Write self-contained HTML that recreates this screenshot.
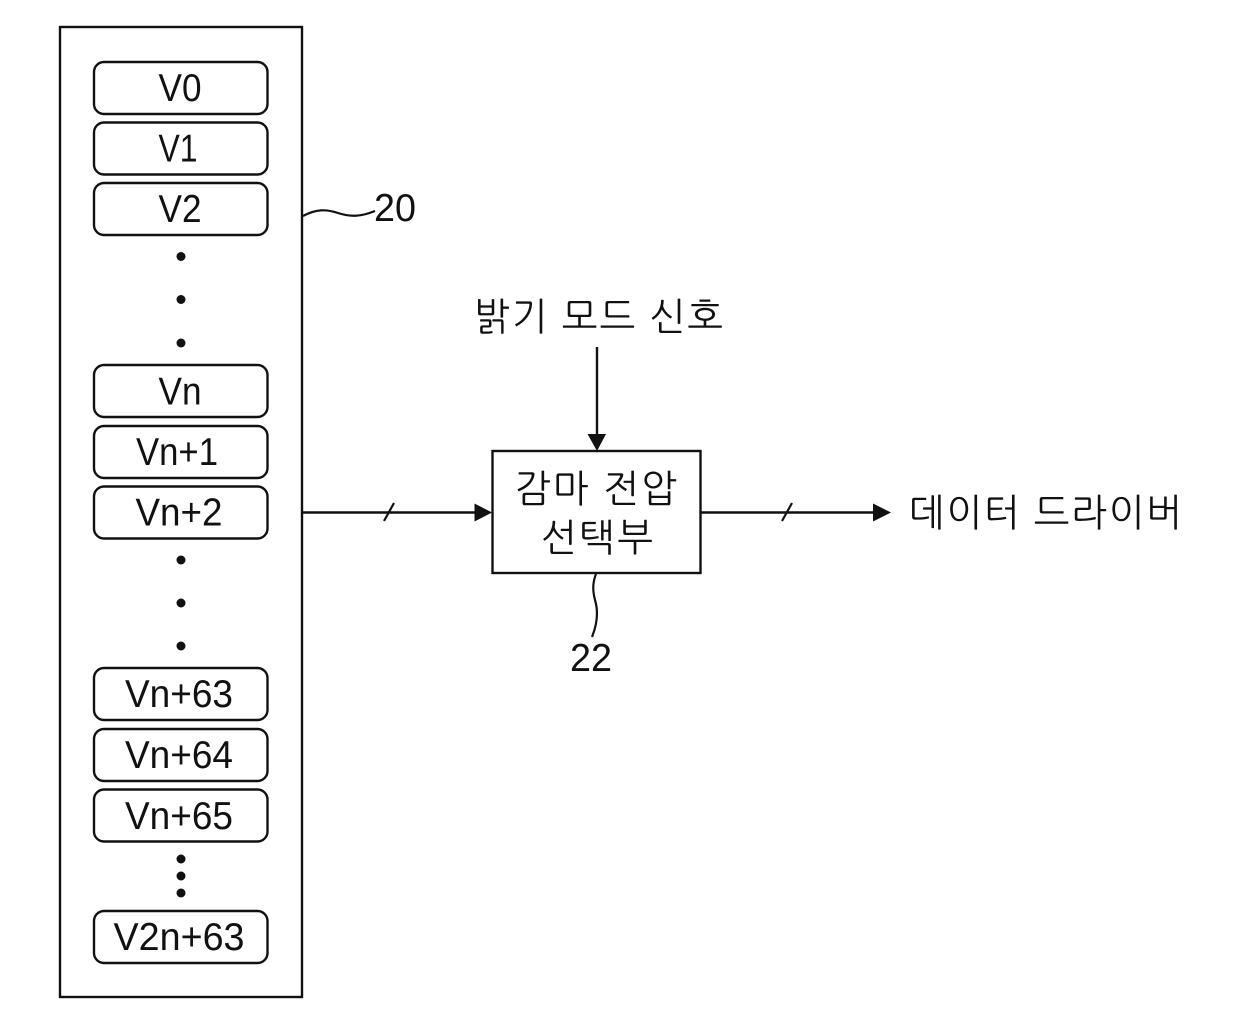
<!DOCTYPE html>
<html lang="ko">
<head>
<meta charset="utf-8">
<title>Diagram</title>
<style>
html,body{margin:0;padding:0;background:#fff;}
svg{display:block;}
text{font-family:"Liberation Sans","Noto Sans CJK KR",sans-serif;fill:#111;}
.v{font-size:38.500px;text-anchor:middle;}
.k{font-family:"Liberation Sans","NanumGothic","Noto Sans CJK KR",sans-serif;font-size:38px;}
.b{fill:#fff;stroke:#111;stroke-width:2.4;}
.l{fill:none;stroke:#111;stroke-width:2.4;}
.t{fill:none;stroke:#111;stroke-width:2.2;}
</style>
</head>
<body>
<svg xmlns="http://www.w3.org/2000/svg" width="1240" height="1025" viewBox="0 0 1240 1025">
<rect x="0" y="0" width="1240" height="1025" fill="#fff"/>
<rect class="b" x="60" y="27" width="242" height="970"/>

<rect class="b" x="94" y="62" width="173.500" height="52" rx="10"/>
<rect class="b" x="94" y="122.500" width="173.500" height="52" rx="10"/>
<rect class="b" x="94" y="183" width="173.500" height="52" rx="10"/>
<rect class="b" x="94" y="365" width="173.500" height="52" rx="10"/>
<rect class="b" x="94" y="426" width="173.500" height="52" rx="10"/>
<rect class="b" x="94" y="486.500" width="173.500" height="52" rx="10"/>
<rect class="b" x="94" y="668" width="173.500" height="52" rx="10"/>
<rect class="b" x="94" y="729" width="173.500" height="52" rx="10"/>
<rect class="b" x="94" y="789.500" width="173.500" height="52" rx="10"/>
<rect class="b" x="94" y="911" width="173.500" height="52" rx="10"/>

<text class="v" x="180" y="101" textLength="43" lengthAdjust="spacingAndGlyphs">V0</text>
<text class="v" x="178" y="161.500" textLength="39" lengthAdjust="spacingAndGlyphs">V1</text>
<text class="v" x="180" y="222" textLength="43" lengthAdjust="spacingAndGlyphs">V2</text>
<text class="v" x="180" y="404.500" textLength="43" lengthAdjust="spacingAndGlyphs">Vn</text>
<text class="v" x="177" y="465" textLength="82" lengthAdjust="spacingAndGlyphs">Vn+1</text>
<text class="v" x="179" y="525.500" textLength="87" lengthAdjust="spacingAndGlyphs">Vn+2</text>
<text class="v" x="179" y="707" textLength="108" lengthAdjust="spacingAndGlyphs">Vn+63</text>
<text class="v" x="179" y="768" textLength="108" lengthAdjust="spacingAndGlyphs">Vn+64</text>
<text class="v" x="179" y="829" textLength="108" lengthAdjust="spacingAndGlyphs">Vn+65</text>
<text class="v" x="179" y="950" textLength="131" lengthAdjust="spacingAndGlyphs">V2n+63</text>

<g fill="#111">
<circle cx="181" cy="256.500" r="4.500"/>
<circle cx="181" cy="299.500" r="4.500"/>
<circle cx="181" cy="343" r="4.500"/>
<circle cx="181" cy="560" r="4.500"/>
<circle cx="181" cy="603" r="4.500"/>
<circle cx="181" cy="646" r="4.500"/>
<circle cx="181" cy="859" r="4.500"/>
<circle cx="181" cy="876" r="4.500"/>
<circle cx="181" cy="893" r="4.500"/>
</g>

<path class="t" d="M303 216 C316 209 326 209 338 213 C350 217 360 217 375 211"/>
<text class="v" x="395" y="221" textLength="42" lengthAdjust="spacingAndGlyphs">20</text>

<text class="k" x="474" y="330" textLength="249" lengthAdjust="spacing">밝기 모드 신호</text>
<line class="l" x1="597" y1="347" x2="597" y2="436"/>
<polygon fill="#111" points="587.500,434 606,434 597,451"/>

<rect class="b" x="492.500" y="451" width="208" height="122"/>
<text class="k" x="515" y="502" textLength="162" lengthAdjust="spacing">감마 전압</text>
<text class="k" x="541" y="551" textLength="112" lengthAdjust="spacing">선택부</text>

<line class="l" x1="302" y1="512.500" x2="478" y2="512.500"/>
<polygon fill="#111" points="474.500,503.500 474.500,521.500 492,512.500"/>
<line class="t" x1="384" y1="521" x2="394" y2="503"/>

<line class="l" x1="701" y1="512.500" x2="876" y2="512.500"/>
<polygon fill="#111" points="873,503.500 873,521.500 891,512.500"/>
<line class="t" x1="782" y1="521" x2="792" y2="503"/>
<text class="k" x="909" y="526" textLength="273" lengthAdjust="spacing">데이터 드라이버</text>

<path class="t" d="M596 574 C592 584 593 592 595 600 C598 610 598 622 592 637"/>
<text class="v" x="591" y="671" textLength="42" lengthAdjust="spacingAndGlyphs">22</text>
</svg>
</body>
</html>
